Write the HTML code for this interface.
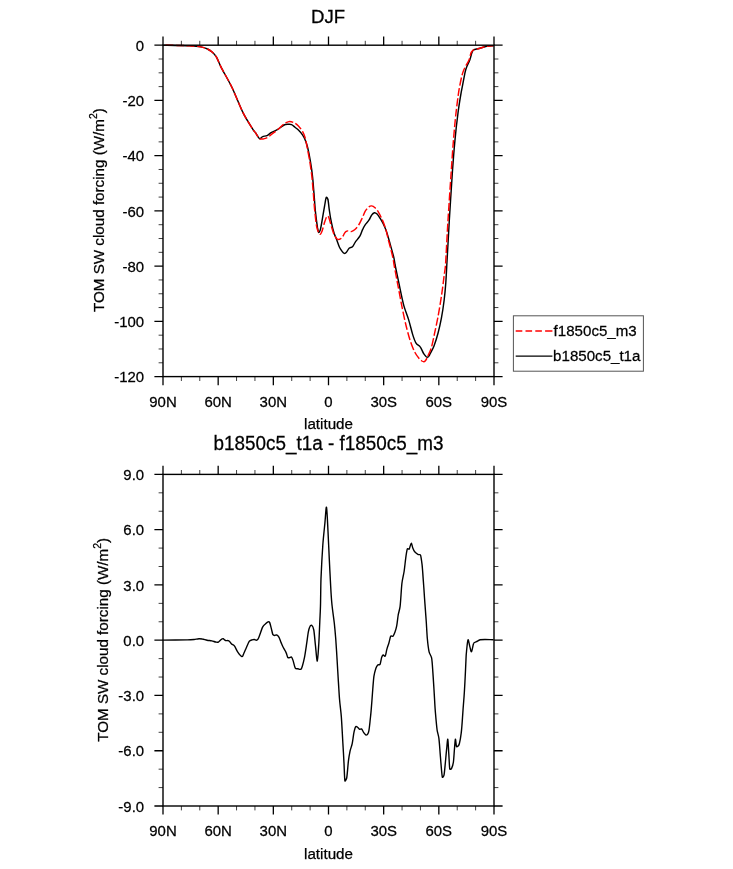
<!DOCTYPE html>
<html><head><meta charset="utf-8"><title>DJF</title>
<style>
html,body{margin:0;padding:0;background:#fff;}
svg{display:block;}
text{font-family:"Liberation Sans",sans-serif;fill:#000;stroke:#000;stroke-width:0.25px;}
.t{font-size:14.95px;}
.l{font-size:15.2px;}
.h{font-size:18.9px;}
.g{font-size:15.1px;}
</style></head><body>
<svg width="733" height="869" viewBox="0 0 733 869">
<rect width="733" height="869" fill="#fff"/>
<text class="h" style="font-size:18.6px" transform="translate(328.1,22.5) scale(1,1.02)" text-anchor="middle">DJF</text>
<path d="M163.3 45.1C167.4 45.2 183.5 45.5 189.5 45.8C193.1 46.0 198.1 46.4 200.9 46.9C203.1 47.3 205.7 48.1 207.5 49.0C209.2 49.8 211.0 51.0 212.4 52.3C213.8 53.6 215.5 55.5 216.5 57.2C217.9 59.7 219.7 64.5 221.4 67.8C223.9 72.6 228.9 81.1 232.0 87.5C235.5 94.8 240.1 107.0 243.5 113.7C246.2 119.1 251.4 127.0 253.3 130.0C253.9 130.9 254.8 131.8 255.5 132.7C256.5 134.1 258.5 138.0 259.6 138.6C260.6 139.1 261.5 137.0 262.6 136.6C263.8 136.1 265.7 136.2 267.0 135.6C268.3 135.0 269.7 133.5 271.1 132.7C272.7 131.8 275.4 130.8 277.3 129.7C279.4 128.5 282.4 125.9 284.1 125.0C285.3 124.4 287.0 124.4 288.2 124.3C289.3 124.2 290.6 124.2 291.6 124.6C292.7 125.1 293.9 126.4 295.0 127.3C296.1 128.2 297.4 129.0 298.4 130.0C299.6 131.2 301.4 133.2 302.5 134.8C303.6 136.4 304.6 138.4 305.3 140.2C306.1 142.2 307.1 145.3 307.7 147.7C308.5 151.1 309.7 157.0 310.4 161.4C311.2 165.9 312.0 171.6 312.5 176.4C313.1 181.5 313.5 188.2 314.0 193.6C314.5 199.1 314.8 206.0 315.4 211.4C315.9 216.6 317.0 224.4 317.5 227.7C317.8 229.3 318.3 232.3 318.8 232.5C319.3 232.7 320.2 230.3 320.5 229.1C321.1 226.8 321.9 221.7 322.5 218.2C323.1 214.5 324.0 209.2 324.6 205.9C325.1 203.2 325.7 198.5 326.2 197.5C326.7 196.7 327.8 198.9 328.0 199.8C328.5 201.8 328.8 206.8 329.3 210.0C329.8 213.6 330.6 218.6 331.4 222.3C332.1 225.8 333.2 230.4 334.1 233.2C334.8 235.4 336.0 237.8 336.8 240.0C337.7 242.3 338.7 245.7 339.6 247.5C340.3 248.9 341.6 250.7 342.3 251.6C342.8 252.3 343.7 253.3 344.3 253.4C344.9 253.5 345.9 252.9 346.4 252.3C347.2 251.5 348.1 249.1 349.1 248.2C350.0 247.4 351.7 247.6 352.5 246.8C353.5 245.8 354.3 243.5 355.3 242.1C356.5 240.4 358.8 238.0 360.0 235.9C361.2 233.9 361.9 230.9 362.8 229.1C363.5 227.5 364.5 225.7 365.5 224.3C366.5 222.9 368.0 221.6 368.9 220.2C369.9 218.8 370.7 216.4 371.6 215.2C372.3 214.2 373.5 212.9 374.4 212.7C375.3 212.5 376.4 213.4 377.1 214.1C378.1 215.1 379.5 217.4 380.5 218.9C381.4 220.4 382.4 222.1 383.2 223.7C384.1 225.6 385.6 228.8 386.4 231.2C387.4 234.2 388.8 239.1 389.8 242.8C391.0 247.0 393.1 254.3 393.9 257.8C394.4 260.0 394.7 262.7 395.1 265.0C395.9 268.9 397.6 277.1 398.8 282.7C400.2 289.2 402.3 300.1 403.9 305.9C405.1 310.3 407.3 315.2 408.6 319.6C410.0 324.1 411.5 330.8 412.7 334.6C413.6 337.5 415.0 341.5 416.2 343.4C417.1 344.8 419.2 345.5 420.2 346.9C421.4 348.5 422.8 352.2 423.7 353.7C424.2 354.5 425.0 355.5 425.6 356.1C426.0 356.6 426.7 357.3 427.2 357.3C427.7 357.3 428.2 356.8 428.6 356.4C429.0 355.9 429.5 355.1 429.8 354.4C430.6 352.8 432.9 348.9 433.9 346.2C435.2 342.8 436.9 337.4 438.0 333.2C439.2 328.8 440.5 323.0 441.4 318.2C442.4 313.0 443.4 306.1 444.1 300.5C444.8 294.9 445.4 288.3 445.8 282.7C446.2 277.1 446.5 270.6 446.8 265.0C447.4 255.2 448.5 234.6 449.3 220.5C450.2 205.8 451.5 184.6 452.4 172.0C453.1 162.1 454.0 150.2 454.9 140.9C455.7 132.1 457.0 120.6 458.0 113.0C458.8 106.6 460.2 98.0 461.1 92.8C461.8 88.9 462.8 84.1 463.5 80.4C464.2 76.9 464.8 72.7 465.8 69.5C466.7 66.4 468.7 62.9 469.7 60.2C470.6 57.8 471.4 54.0 472.0 52.4C472.3 51.5 472.8 50.3 473.6 49.8C474.7 49.2 477.3 49.0 479.0 48.5C481.1 47.9 484.5 46.6 486.8 46.2C488.8 45.8 492.3 45.9 493.3 45.9" fill="none" stroke="#000" stroke-width="1.45" stroke-linejoin="round"/>
<path d="M163.3 45.1C167.4 45.2 183.5 45.5 189.5 45.8C193.1 46.0 198.1 46.4 200.9 46.9C203.1 47.3 205.7 48.1 207.5 49.0C209.2 49.8 211.0 51.0 212.4 52.3C213.8 53.6 215.5 55.5 216.5 57.2C217.9 59.7 219.7 64.5 221.4 67.8C223.9 72.6 228.9 81.1 232.0 87.5C235.5 94.8 240.1 107.0 243.5 113.7C246.2 119.1 251.4 127.0 253.3 130.0C253.9 130.9 254.8 131.8 255.5 132.7C256.5 134.1 258.3 137.6 259.6 138.6C260.6 139.4 262.3 139.1 263.6 138.9C264.9 138.7 266.5 138.2 267.7 137.5C269.0 136.7 270.5 135.1 271.8 134.1C273.3 132.9 275.6 131.4 277.3 130.0C279.2 128.4 282.3 125.2 284.1 123.9C285.5 122.9 287.4 121.8 288.9 121.6C290.4 121.4 292.3 121.9 293.7 122.5C295.2 123.2 297.1 124.6 298.4 125.9C299.8 127.3 301.4 129.5 302.5 131.4C303.6 133.3 304.7 136.0 305.3 138.2C306.0 140.7 306.5 144.3 307.1 147.1C307.8 150.8 309.0 156.9 309.8 161.4C310.5 166.0 311.3 171.6 311.9 176.4C312.4 181.5 312.9 188.2 313.4 193.6C313.8 199.1 314.2 206.0 314.8 211.4C315.3 216.6 316.1 224.1 316.9 227.7C317.3 229.9 319.0 233.6 319.8 234.2C320.6 234.8 321.4 232.7 321.8 231.8C322.6 229.9 323.8 224.7 324.6 222.3C325.2 220.5 326.1 217.8 326.6 216.8C326.8 216.4 327.6 215.9 328.0 216.2C328.4 216.5 329.0 218.0 329.3 218.9C329.8 220.5 330.7 224.0 331.4 226.4C332.2 228.9 333.2 232.7 334.1 234.6C334.7 236.0 335.9 238.0 336.8 238.7C337.5 239.3 338.7 239.5 339.6 239.3C340.5 239.1 341.6 238.1 342.3 237.3C343.2 236.2 344.1 233.5 345.0 232.5C345.6 231.7 346.7 231.0 347.7 230.9C348.7 230.8 350.1 231.8 351.2 231.6C352.3 231.4 353.7 230.6 354.6 229.8C355.8 228.8 357.6 226.7 358.7 225.0C359.9 223.2 361.1 220.4 362.1 218.2C363.2 215.9 364.4 212.5 365.5 210.7C366.3 209.3 367.9 207.7 368.9 206.9C369.6 206.3 370.7 205.8 371.6 205.9C372.6 206.0 374.1 206.9 375.0 207.7C376.1 208.7 377.5 210.6 378.4 212.1C379.5 213.9 380.9 216.7 381.9 218.9C383.0 221.4 384.4 224.8 385.3 227.7C386.3 231.0 387.5 236.1 388.4 240.0C389.7 244.8 392.1 253.8 392.9 257.8C393.5 260.1 393.6 262.7 394.1 265.0C394.8 268.9 396.4 277.1 397.4 282.7C398.7 289.2 400.5 299.2 401.8 305.9C403.0 312.0 404.6 319.6 405.9 325.0C407.1 329.8 408.6 335.7 410.0 340.0C411.3 344.0 413.3 349.3 414.8 352.3C416.0 354.7 418.5 357.7 419.6 359.1C420.2 359.8 421.3 360.6 421.9 361.0C422.4 361.3 423.1 361.7 423.7 361.7C424.3 361.7 425.0 361.2 425.4 360.7C425.9 360.1 426.7 358.8 427.1 357.8C428.0 355.8 430.2 351.4 431.2 348.2C432.4 344.3 433.6 338.0 434.6 333.2C435.7 328.2 437.0 322.0 438.0 316.8C439.1 311.0 440.4 302.9 441.4 296.4C442.4 289.9 443.5 280.9 444.1 275.9C444.6 272.4 445.3 268.5 445.5 265.0C446.1 256.2 447.1 234.6 448.0 220.5C448.9 205.8 450.3 184.6 451.2 172.0C451.9 162.1 452.6 150.2 453.4 140.9C454.1 132.1 455.1 120.9 456.0 113.0C456.8 106.1 457.9 97.1 458.8 91.2C459.6 86.3 461.0 79.3 461.9 75.7C462.5 73.4 463.3 70.8 464.3 68.7C465.4 66.2 467.8 62.8 468.9 60.2C469.9 57.8 470.5 54.0 471.2 52.4C471.7 51.4 472.6 50.3 473.6 49.8C474.8 49.2 477.3 49.0 479.0 48.5C481.1 47.9 484.5 46.6 486.8 46.2C488.8 45.8 492.3 45.9 493.3 45.9" fill="none" stroke="#f00" stroke-width="1.45" stroke-linejoin="round" stroke-dasharray="8 2.5" stroke-dashoffset="8.3"/>
<rect x="163.0" y="45.2" width="331.0" height="331.4" fill="none" stroke="#000" stroke-width="1.4"/>
<path d="M163.00 45.2v-8.6M163.00 376.6v8.6M218.17 45.2v-8.6M218.17 376.6v8.6M273.33 45.2v-8.6M273.33 376.6v8.6M328.50 45.2v-8.6M328.50 376.6v8.6M383.67 45.2v-8.6M383.67 376.6v8.6M438.83 45.2v-8.6M438.83 376.6v8.6M494.00 45.2v-8.6M494.00 376.6v8.6M163.0 45.20h-8.6M494.0 45.20h8.6M163.0 100.43h-8.6M494.0 100.43h8.6M163.0 155.67h-8.6M494.0 155.67h8.6M163.0 210.90h-8.6M494.0 210.90h8.6M163.0 266.13h-8.6M494.0 266.13h8.6M163.0 321.37h-8.6M494.0 321.37h8.6M163.0 376.60h-8.6M494.0 376.60h8.6" stroke="#000" stroke-width="1.3" fill="none"/>
<path d="M181.39 45.2v-4.4M181.39 376.6v4.4M199.78 45.2v-4.4M199.78 376.6v4.4M236.56 45.2v-4.4M236.56 376.6v4.4M254.94 45.2v-4.4M254.94 376.6v4.4M291.72 45.2v-4.4M291.72 376.6v4.4M310.11 45.2v-4.4M310.11 376.6v4.4M346.89 45.2v-4.4M346.89 376.6v4.4M365.28 45.2v-4.4M365.28 376.6v4.4M402.06 45.2v-4.4M402.06 376.6v4.4M420.44 45.2v-4.4M420.44 376.6v4.4M457.22 45.2v-4.4M457.22 376.6v4.4M475.61 45.2v-4.4M475.61 376.6v4.4M163.0 59.01h-4.4M494.0 59.01h4.4M163.0 72.82h-4.4M494.0 72.82h4.4M163.0 86.62h-4.4M494.0 86.62h4.4M163.0 114.24h-4.4M494.0 114.24h4.4M163.0 128.05h-4.4M494.0 128.05h4.4M163.0 141.86h-4.4M494.0 141.86h4.4M163.0 169.48h-4.4M494.0 169.48h4.4M163.0 183.28h-4.4M494.0 183.28h4.4M163.0 197.09h-4.4M494.0 197.09h4.4M163.0 224.71h-4.4M494.0 224.71h4.4M163.0 238.52h-4.4M494.0 238.52h4.4M163.0 252.33h-4.4M494.0 252.33h4.4M163.0 279.94h-4.4M494.0 279.94h4.4M163.0 293.75h-4.4M494.0 293.75h4.4M163.0 307.56h-4.4M494.0 307.56h4.4M163.0 335.18h-4.4M494.0 335.18h4.4M163.0 348.98h-4.4M494.0 348.98h4.4M163.0 362.79h-4.4M494.0 362.79h4.4" stroke="#000" stroke-width="0.75" fill="none"/>
<text class="t" transform="translate(163.0,407.1) scale(1,1.03)" text-anchor="middle">90N</text>
<text class="t" transform="translate(163.0,836.1) scale(1,1.03)" text-anchor="middle">90N</text>
<text class="t" transform="translate(218.2,407.1) scale(1,1.03)" text-anchor="middle">60N</text>
<text class="t" transform="translate(218.2,836.1) scale(1,1.03)" text-anchor="middle">60N</text>
<text class="t" transform="translate(273.3,407.1) scale(1,1.03)" text-anchor="middle">30N</text>
<text class="t" transform="translate(273.3,836.1) scale(1,1.03)" text-anchor="middle">30N</text>
<text class="t" transform="translate(328.5,407.1) scale(1,1.03)" text-anchor="middle">0</text>
<text class="t" transform="translate(328.5,836.1) scale(1,1.03)" text-anchor="middle">0</text>
<text class="t" transform="translate(383.7,407.1) scale(1,1.03)" text-anchor="middle">30S</text>
<text class="t" transform="translate(383.7,836.1) scale(1,1.03)" text-anchor="middle">30S</text>
<text class="t" transform="translate(438.8,407.1) scale(1,1.03)" text-anchor="middle">60S</text>
<text class="t" transform="translate(438.8,836.1) scale(1,1.03)" text-anchor="middle">60S</text>
<text class="t" transform="translate(494.0,407.1) scale(1,1.03)" text-anchor="middle">90S</text>
<text class="t" transform="translate(494.0,836.1) scale(1,1.03)" text-anchor="middle">90S</text>
<text class="t" transform="translate(144.1,50.8) scale(1,1.03)" text-anchor="end">0</text>
<text class="t" transform="translate(144.1,106.0) scale(1,1.03)" text-anchor="end">-20</text>
<text class="t" transform="translate(144.1,161.3) scale(1,1.03)" text-anchor="end">-40</text>
<text class="t" transform="translate(144.1,216.5) scale(1,1.03)" text-anchor="end">-60</text>
<text class="t" transform="translate(144.1,271.7) scale(1,1.03)" text-anchor="end">-80</text>
<text class="t" transform="translate(144.1,327.0) scale(1,1.03)" text-anchor="end">-100</text>
<text class="t" transform="translate(144.1,382.2) scale(1,1.03)" text-anchor="end">-120</text>
<text class="t" transform="translate(144.1,480.0) scale(1,1.03)" text-anchor="end">9.0</text>
<text class="t" transform="translate(144.1,535.3) scale(1,1.03)" text-anchor="end">6.0</text>
<text class="t" transform="translate(144.1,590.5) scale(1,1.03)" text-anchor="end">3.0</text>
<text class="t" transform="translate(144.1,645.8) scale(1,1.03)" text-anchor="end">0.0</text>
<text class="t" transform="translate(144.1,701.1) scale(1,1.03)" text-anchor="end">-3.0</text>
<text class="t" transform="translate(144.1,756.3) scale(1,1.03)" text-anchor="end">-6.0</text>
<text class="t" transform="translate(144.1,811.6) scale(1,1.03)" text-anchor="end">-9.0</text>
<text class="l" transform="translate(328.5,429.3) scale(1,1.0)" text-anchor="middle">latitude</text>
<text class="l" transform="translate(328.5,858.7) scale(1,1.0)" text-anchor="middle">latitude</text>
<text class="l" transform="translate(104.3,210.1) rotate(-90) scale(1,1.0)" text-anchor="middle">TOM SW cloud forcing (W/m<tspan dy="-6.9" font-size="10.4">2</tspan><tspan dy="6.9">)</tspan></text>
<text class="l" transform="translate(108.3,639.9) rotate(-90) scale(1,1.0)" text-anchor="middle">TOM SW cloud forcing (W/m<tspan dy="-6.9" font-size="10.4">2</tspan><tspan dy="6.9">)</tspan></text>
<rect x="513.4" y="315.8" width="130.0" height="55.4" fill="#fff" stroke="#555" stroke-width="1"/>
<path d="M515.7 331H552.4" stroke="#f00" stroke-width="1.45" stroke-dasharray="6.6 3.2 6.6 3.2 6.6 3.2 8 3" fill="none"/>
<path d="M515.7 356.1H552.4" stroke="#000" stroke-width="1.4" fill="none"/>
<text class="g" transform="translate(553.6,335.8) scale(1,1.02)" text-anchor="start">f1850c5_m3</text>
<text class="g" transform="translate(553.1,361.0) scale(1,1.02)" text-anchor="start">b1850c5_t1a</text>
<text class="h" transform="translate(328.5,450.4) scale(1,1.05)" text-anchor="middle">b1850c5_t1a - f1850c5_m3</text>
<path d="M162.7 640.1C166.6 640.1 182.3 640.0 187.3 639.9C189.5 639.9 192.3 639.7 194.1 639.5C195.6 639.3 197.6 638.8 198.9 638.7C200.0 638.6 201.2 638.8 202.3 639.0C203.6 639.2 205.6 639.9 207.1 640.2C208.6 640.5 210.4 640.6 211.8 640.9C213.1 641.2 214.9 641.9 215.9 642.1C216.7 642.2 217.7 642.4 218.4 642.1C219.3 641.7 220.6 639.9 221.4 639.4C221.9 639.0 222.6 638.5 223.2 638.7C223.8 638.9 224.6 640.2 225.5 640.5C226.4 640.8 228.0 640.3 228.9 640.8C229.9 641.3 230.7 643.1 231.6 643.9C232.4 644.6 233.7 645.0 234.4 645.9C235.4 647.2 236.6 650.4 237.8 652.1C238.9 653.7 241.0 656.3 241.9 656.6C242.8 656.9 243.1 654.9 243.5 654.1C244.1 652.8 245.1 650.4 245.9 648.7C246.8 646.7 248.4 642.6 249.4 641.2C250.0 640.4 251.3 640.1 252.1 639.8C252.8 639.6 253.7 639.4 254.4 639.5C255.1 639.6 256.1 640.5 256.8 640.2C257.5 639.9 258.3 638.6 258.7 637.7C259.6 635.6 261.6 629.3 262.6 627.1C263.2 625.9 264.4 624.8 265.3 624.0C266.1 623.2 267.3 622.1 268.0 621.8C268.5 621.6 269.4 621.9 269.6 622.4C270.1 623.4 270.8 626.5 271.3 628.4C271.8 630.3 272.4 633.6 272.9 634.7C273.2 635.2 274.0 635.5 274.6 635.5C275.2 635.5 276.1 634.7 276.7 634.9C277.4 635.2 278.4 636.2 278.9 637.1C279.6 638.3 280.4 641.0 281.1 642.6C281.8 644.2 282.5 646.0 283.3 647.5C284.1 649.1 285.3 650.8 286.0 652.4C286.7 653.9 287.2 656.4 287.7 657.3C288.0 657.8 288.8 657.8 289.3 657.8C289.9 657.8 290.9 656.7 291.5 657.1C292.1 657.5 292.7 659.4 293.1 660.6C293.7 662.4 294.5 666.9 295.3 668.2C295.7 669.0 297.1 668.6 298.0 668.8C298.9 669.0 300.1 669.7 300.8 669.3C301.5 668.9 302.1 667.1 302.4 666.0C303.0 664.0 304.0 659.7 304.6 656.8C305.3 653.1 306.2 646.6 306.8 642.6C307.3 639.2 307.9 634.2 308.4 631.7C308.7 630.1 309.3 627.7 309.8 626.7C310.1 626.0 311.1 624.8 311.7 625.3C312.3 625.8 313.5 628.4 313.8 630.0C314.4 633.2 314.9 640.9 315.5 645.8C316.0 650.6 316.8 661.4 317.3 661.1C317.8 660.8 318.4 649.2 318.8 643.7C319.2 637.5 319.5 627.9 319.8 621.8C320.0 616.5 320.4 610.3 320.5 605.0C320.7 598.1 320.7 586.8 321.0 578.4C321.4 568.9 322.2 554.0 322.8 545.2C323.3 538.2 324.3 529.1 324.9 523.1C325.4 518.1 326.0 506.0 326.5 507.3C327.0 508.6 327.6 523.8 328.0 531.4C328.4 539.6 328.9 550.3 329.3 559.1C329.7 567.8 330.3 579.4 330.7 586.7C331.0 592.5 331.4 599.2 332.0 605.0C332.6 610.8 333.7 617.9 334.3 623.2C334.8 627.9 335.3 633.4 335.7 638.2C336.1 644.0 336.7 653.1 337.1 660.0C337.5 666.9 338.0 675.6 338.4 681.9C338.8 687.6 339.1 694.5 339.6 700.0C340.0 705.2 340.9 711.2 341.3 716.4C341.8 723.3 342.5 736.3 342.9 743.7C343.3 749.9 343.7 757.4 344.0 763.3C344.3 768.8 344.5 778.5 344.9 780.8C345.1 781.8 346.5 779.0 346.7 778.0C347.3 774.9 347.9 765.3 348.4 761.1C348.8 758.0 349.4 754.1 350.0 751.3C350.5 748.9 351.7 746.2 352.2 743.7C352.8 740.6 353.5 734.4 354.1 731.7C354.5 730.0 355.2 727.2 355.8 726.5C356.2 726.0 357.2 726.9 357.7 727.3C358.3 727.7 358.7 728.9 359.3 729.2C359.9 729.5 360.9 728.5 361.5 728.9C362.2 729.4 363.0 731.5 363.7 732.5C364.3 733.3 365.2 734.6 365.8 734.9C366.3 735.2 367.2 734.9 367.5 734.4C368.0 733.7 368.7 731.9 368.9 730.6C369.3 728.6 369.7 724.6 370.0 721.8C370.3 718.7 370.8 714.4 371.1 710.9C371.5 706.3 372.1 698.3 372.5 692.8C372.9 687.6 373.4 680.3 373.9 676.4C374.3 673.8 375.3 670.0 375.9 668.2C376.3 667.0 377.4 665.4 378.0 664.8C378.5 664.4 379.7 665.1 380.0 664.5C380.6 663.3 381.2 658.8 381.7 657.3C382.0 656.5 382.6 655.2 383.2 655.0C383.8 654.8 384.8 656.8 385.2 656.2C385.8 655.3 386.3 651.2 386.9 649.1C387.4 647.1 388.3 644.9 388.9 643.0C389.5 641.0 390.1 637.3 390.7 636.2C391.1 635.6 392.5 636.7 393.0 636.2C393.7 635.6 394.5 633.5 395.0 632.1C395.6 630.5 396.3 627.9 396.7 625.9C397.2 623.2 397.7 618.1 398.2 615.0C398.7 612.3 399.8 609.2 400.1 606.4C400.7 601.4 401.3 589.0 401.9 583.5C402.3 579.7 403.5 575.3 404.1 571.5C404.7 567.5 405.2 562.0 405.7 558.4C406.1 555.3 406.8 550.3 407.4 548.8C407.6 548.3 408.9 549.6 409.2 549.1C409.8 548.2 410.6 543.5 411.2 543.3C411.8 543.1 412.2 546.7 412.8 548.0C413.3 549.2 413.8 550.8 414.7 551.8C415.6 552.8 417.4 554.1 418.3 554.6C418.9 554.9 420.3 554.2 420.5 554.9C421.1 556.5 421.7 561.7 422.1 564.9C422.5 568.7 422.9 574.6 423.2 579.1C423.6 584.3 424.2 592.8 424.5 597.7C424.8 601.6 425.1 606.1 425.4 610.0C425.7 613.9 426.0 618.4 426.3 622.3C426.6 626.8 426.9 633.5 427.3 638.2C427.7 642.5 428.4 648.7 429.1 651.8C429.5 653.8 431.2 655.8 431.6 657.9C432.2 661.0 432.5 667.1 432.8 671.4C433.2 676.5 433.7 685.3 434.0 689.8C434.2 693.0 434.4 696.8 434.6 700.0C434.8 703.8 435.1 709.2 435.5 713.5C435.9 718.2 436.6 726.1 437.1 730.0C437.5 732.7 438.6 735.6 438.9 738.3C439.4 742.1 439.8 749.0 440.2 753.9C440.7 760.1 441.7 773.8 442.3 777.2C442.5 778.0 443.8 775.9 444.0 775.1C444.5 772.7 445.0 766.3 445.4 762.2C445.8 758.0 446.3 752.3 446.7 748.7C447.0 745.7 447.5 738.4 447.8 739.2C448.1 740.0 448.5 749.2 448.8 753.9C449.1 758.6 449.4 766.9 449.8 769.2C449.9 769.8 451.3 769.0 451.6 768.4C452.2 767.3 453.1 764.2 453.4 762.2C453.8 759.2 454.1 753.3 454.4 749.7C454.7 746.4 455.1 739.7 455.4 739.2C455.7 738.7 456.1 745.5 456.5 746.6C456.7 747.1 457.7 746.5 458.1 746.1C458.6 745.6 459.2 744.4 459.4 743.5C459.9 741.5 460.8 736.5 461.2 733.2C461.7 729.1 462.2 722.1 462.5 717.6C462.8 713.6 463.1 708.4 463.4 705.0C463.6 702.1 463.9 698.9 464.1 696.0C464.4 691.9 464.8 684.2 465.1 678.8C465.4 673.0 465.8 663.6 466.0 659.1C466.1 656.4 466.3 653.2 466.6 650.5C466.9 647.4 467.5 640.6 468.0 639.8C468.5 639.0 469.1 643.8 469.6 645.6C470.2 647.5 470.9 652.1 471.5 651.7C472.1 651.3 472.9 644.8 473.7 643.2C474.1 642.3 475.5 642.2 476.4 641.7C477.4 641.2 478.8 640.1 480.1 639.8C481.5 639.5 483.4 639.5 485.0 639.5C487.1 639.5 492.2 639.7 493.6 639.7" fill="none" stroke="#000" stroke-width="1.4" stroke-linejoin="round"/>
<rect x="163.0" y="474.4" width="331.0" height="331.6" fill="none" stroke="#000" stroke-width="1.4"/>
<path d="M163.00 474.4v-8.6M163.00 806.0v8.6M218.17 474.4v-8.6M218.17 806.0v8.6M273.33 474.4v-8.6M273.33 806.0v8.6M328.50 474.4v-8.6M328.50 806.0v8.6M383.67 474.4v-8.6M383.67 806.0v8.6M438.83 474.4v-8.6M438.83 806.0v8.6M494.00 474.4v-8.6M494.00 806.0v8.6M163.0 474.40h-8.6M494.0 474.40h8.6M163.0 529.67h-8.6M494.0 529.67h8.6M163.0 584.93h-8.6M494.0 584.93h8.6M163.0 640.20h-8.6M494.0 640.20h8.6M163.0 695.47h-8.6M494.0 695.47h8.6M163.0 750.73h-8.6M494.0 750.73h8.6M163.0 806.00h-8.6M494.0 806.00h8.6" stroke="#000" stroke-width="1.3" fill="none"/>
<path d="M181.39 474.4v-4.4M181.39 806.0v4.4M199.78 474.4v-4.4M199.78 806.0v4.4M236.56 474.4v-4.4M236.56 806.0v4.4M254.94 474.4v-4.4M254.94 806.0v4.4M291.72 474.4v-4.4M291.72 806.0v4.4M310.11 474.4v-4.4M310.11 806.0v4.4M346.89 474.4v-4.4M346.89 806.0v4.4M365.28 474.4v-4.4M365.28 806.0v4.4M402.06 474.4v-4.4M402.06 806.0v4.4M420.44 474.4v-4.4M420.44 806.0v4.4M457.22 474.4v-4.4M457.22 806.0v4.4M475.61 474.4v-4.4M475.61 806.0v4.4M163.0 492.82h-4.4M494.0 492.82h4.4M163.0 511.24h-4.4M494.0 511.24h4.4M163.0 548.09h-4.4M494.0 548.09h4.4M163.0 566.51h-4.4M494.0 566.51h4.4M163.0 603.36h-4.4M494.0 603.36h4.4M163.0 621.78h-4.4M494.0 621.78h4.4M163.0 658.62h-4.4M494.0 658.62h4.4M163.0 677.04h-4.4M494.0 677.04h4.4M163.0 713.89h-4.4M494.0 713.89h4.4M163.0 732.31h-4.4M494.0 732.31h4.4M163.0 769.16h-4.4M494.0 769.16h4.4M163.0 787.58h-4.4M494.0 787.58h4.4" stroke="#000" stroke-width="0.75" fill="none"/>
</svg></body></html>
